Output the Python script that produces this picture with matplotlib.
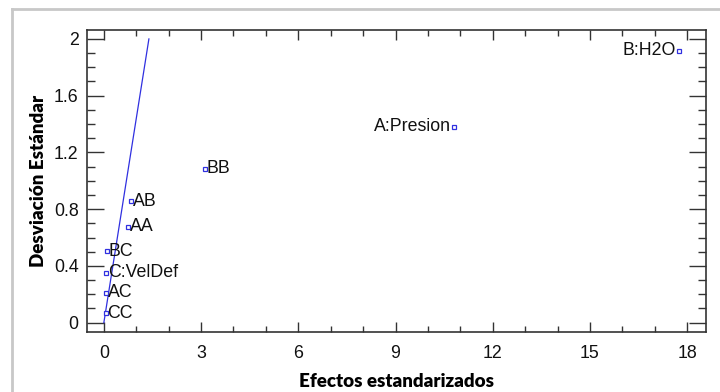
import numpy as np
import matplotlib.pyplot as plt
from matplotlib.lines import Line2D
from matplotlib.ticker import MultipleLocator

# efectos estandarizados vs desviacion estandar
labels = ["B:H2O", "A:Presion", "BB", "AB", "AA", "BC", "C:VelDef", "AC", "CC"]
efectos = [17.75, 10.81, 3.12, 0.85, 0.75, 0.11, 0.08, 0.08, 0.06]
desv = [1.915, 1.38, 1.085, 0.855, 0.675, 0.505, 0.35, 0.21, 0.066]
left_side = ["B:H2O", "A:Presion"]

# reference line
line_x = [0, 1.39]
line_y = [0, 2.0]

plt.rcParams["font.family"] = ["Liberation Sans", "DejaVu Sans"]

fig = plt.figure(figsize=(7.2, 3.92), dpi=100)
ax = fig.add_axes([87/720, 1 - 332/392, (706-87)/720, (332-30)/392])

ax.plot(line_x, line_y, color="#3030e0", linewidth=0.9)
ax.plot(efectos, desv, linestyle="none", marker="s", markersize=3.5,
        markerfacecolor="white", markeredgecolor="#3030e0", markeredgewidth=0.9)

for lab, x, y in zip(labels, efectos, desv):
    if lab in left_side:
        ax.annotate(lab, (x, y), xytext=(-2, 0), textcoords="offset points",
                    ha="right", va="center", fontsize=12.8, color="#111111")
    else:
        ax.annotate(lab, (x, y), xytext=(1, 0), textcoords="offset points",
                    ha="left", va="center", fontsize=12.8, color="#111111")

ax.set_xlim(-0.52, 18.58)
ax.set_ylim(-0.066, 2.063)
ax.xaxis.set_major_locator(MultipleLocator(3))
ax.xaxis.set_minor_locator(MultipleLocator(1))
ax.yaxis.set_major_locator(MultipleLocator(0.4))
ax.yaxis.set_minor_locator(MultipleLocator(0.1))
ax.set_yticklabels([], minor=True)
ax.yaxis.set_major_formatter(plt.FuncFormatter(lambda v, p: "%g" % round(v, 1)))

ax.tick_params(which="both", direction="in", top=True, right=True, color="#333333")
ax.tick_params(which="major", length=7, width=1, labelsize=12.8, labelcolor="#111111")
ax.tick_params(which="minor", length=4, width=1)
ax.tick_params(axis="x", which="major", pad=9)
ax.tick_params(axis="y", which="major", length=12, pad=6)
ax.tick_params(axis="y", which="minor", length=6)
for s in ax.spines.values():
    s.set_color("#333333")
    s.set_linewidth(1.2)

ax.set_xlabel("Efectos estandarizados", fontsize=13.5, fontweight="heavy",
              family="Lato", labelpad=8)
ax.set_ylabel("Desviación Estándar", fontsize=13.5, fontweight="heavy",
              family="Lato", labelpad=5)

# gray outer frame (left and top)
fig.add_artist(Line2D([12/720, 12/720], [0, 1 - 9/392], color="#c8c8c8", linewidth=2,
                      transform=fig.transFigure))
fig.add_artist(Line2D([12/720, 1], [1 - 9/392, 1 - 9/392], color="#c8c8c8", linewidth=2,
                      transform=fig.transFigure))

plt.savefig("out.png", dpi=100)
plt.close()
